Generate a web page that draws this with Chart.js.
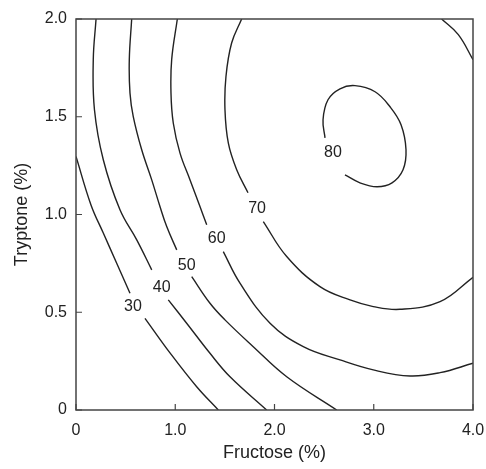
<!DOCTYPE html>
<html>
<head>
<meta charset="utf-8">
<script src="https://cdn.jsdelivr.net/npm/chart.js@4.4.1/dist/chart.umd.min.js"></script>
<style>
  body { margin: 0; background: #fff; }
  canvas { display: block; }
</style>
</head>
<body>
<canvas id="contourChart" width="486" height="469"></canvas>
<script>
// contour lines, [fructose, tryptone]; null = gap where the label sits
const contour30 = [[0, 1.297], [0.151, 1.049], [0.275, 0.905], [0.410, 0.751], [0.544, 0.597], null,
  [0.695, 0.469], [0.947, 0.292], [1.216, 0.119], [1.434, 0]];
const contour40 = [[0.202, 2.0], [0.174, 1.792], [0.186, 1.536], [0.275, 1.280], [0.443, 1.024],
  [0.612, 0.870], [0.763, 0.717], null,
  [0.930, 0.563], [1.115, 0.444], [1.350, 0.290], [1.552, 0.170], [1.921, 0]];
const contour50 = [[0.561, 2.0], [0.537, 1.792], [0.544, 1.621], [0.577, 1.501], [0.662, 1.331],
  [0.763, 1.177], [0.846, 1.041], [0.914, 0.938], [1.015, 0.819], null,
  [1.166, 0.682], [1.350, 0.546], [1.501, 0.461], [1.786, 0.324], [2.123, 0.170], [2.627, 0]];
const contour60 = [[1.021, 2.0], [0.964, 1.792], [0.957, 1.621], [0.980, 1.468], [1.048, 1.314],
  [1.149, 1.177], [1.249, 1.041], [1.317, 0.947], null,
  [1.484, 0.810], [1.652, 0.649], [1.955, 0.444], [2.290, 0.324], [2.660, 0.256],
  [2.995, 0.205], [3.365, 0.174], [3.668, 0.191], [4.0, 0.239]];
const contour70 = [[1.669, 2.0], [1.568, 1.877], [1.511, 1.706], [1.501, 1.536], [1.535, 1.365],
  [1.619, 1.229], [1.733, 1.111], null,
  [1.887, 0.964], [2.123, 0.785], [2.458, 0.631], [2.761, 0.563], [2.995, 0.529],
  [3.264, 0.515], [3.668, 0.554], [4.0, 0.679], null,
  [3.684, 2.0], [3.852, 1.920], [4.0, 1.792]];
const contour80 = [[2.509, 1.392], [2.489, 1.485], [2.539, 1.587], [2.660, 1.643], [2.811, 1.659],
  [3.013, 1.628], [3.164, 1.551], [3.275, 1.459], [3.325, 1.331], [3.295, 1.229],
  [3.184, 1.162], [3.033, 1.142], [2.861, 1.162], [2.710, 1.203]];

const contourLabels = ['30', '40', '50', '60', '70', '80'];
const labelX = [0.574, 0.863, 1.115, 1.418, 1.824, 2.589];
const labelY = [0.527, 0.627, 0.740, 0.875, 1.029, 1.316];

const xTicks = [0, 1, 2, 3, 4];
const yTicks = [0, 0.5, 1, 1.5, 2];

const lineColor = '#222';
const textColor = '#222';
const fontFamily = '"Liberation Sans", Arial, sans-serif';

// split a contour into its pieces
function segments(pts) {
  let out = [], cur = [];
  pts.forEach(p => {
    if (p === null) { out.push(cur); cur = []; }
    else cur.push({ x: p[0], y: p[1] });
  });
  out.push(cur);
  return out;
}

let datasets = [];
[contour30, contour40, contour50, contour60, contour70, contour80].forEach(c => {
  segments(c).forEach(seg => {
    datasets.push({
      data: seg,
      showLine: true,
      borderColor: lineColor,
      borderWidth: 1.4,
      pointRadius: 0,
      tension: 0.4,
      fill: false
    });
  });
});

const fmt = v => v === 0 ? '0' : v.toFixed(1);

const framePlugin = {
  id: 'frame',
  afterDatasetsDraw(chart) {
    const { ctx, chartArea: a, scales: { x, y } } = chart;
    ctx.save();
    ctx.strokeStyle = '#444';
    ctx.lineWidth = 1.5;
    ctx.strokeRect(a.left, a.top, a.right - a.left, a.bottom - a.top);
    // inward tick marks
    ctx.lineWidth = 1.2;
    ctx.beginPath();
    xTicks.forEach(v => {
      const px = x.getPixelForValue(v);
      ctx.moveTo(px, a.bottom); ctx.lineTo(px, a.bottom - 6);
    });
    yTicks.forEach(v => {
      const py = y.getPixelForValue(v);
      ctx.moveTo(a.left, py); ctx.lineTo(a.left + 6, py);
    });
    ctx.stroke();
    // contour labels
    ctx.fillStyle = textColor;
    ctx.font = '16px ' + fontFamily;
    ctx.textAlign = 'center';
    ctx.textBaseline = 'middle';
    contourLabels.forEach((t, i) => {
      ctx.fillText(t, x.getPixelForValue(labelX[i]), y.getPixelForValue(labelY[i]));
    });
    ctx.restore();
  }
};

const ctx = document.querySelector('#contourChart');
const chart = new Chart(ctx, {
  type: 'scatter',
  data: { datasets: datasets },
  plugins: [framePlugin],
  options: {
    responsive: false,
    animation: false,
    devicePixelRatio: 1,
    layout: { padding: { top: 19, right: 13, left: 0, bottom: 0 } },
    plugins: { legend: { display: false }, tooltip: { enabled: false } },
    scales: {
      x: {
        type: 'linear',
        min: 0, max: 4,
        afterFit: s => { s.height = 59; s.paddingLeft = 0; s.paddingRight = 0; },
        afterBuildTicks: s => { s.ticks = xTicks.map(v => ({ value: v })); },
        grid: { display: false, drawTicks: false },
        border: { display: false },
        ticks: {
          padding: 11,
          color: textColor,
          font: { family: fontFamily, size: 16 },
          callback: fmt,
          maxRotation: 0
        },
        title: {
          display: true,
          text: 'Fructose (%)',
          color: textColor,
          font: { family: fontFamily, size: 18 },
          padding: { top: 0, bottom: 5 }
        }
      },
      y: {
        type: 'linear',
        min: 0, max: 2,
        afterFit: s => { s.width = 76; s.paddingTop = 0; s.paddingBottom = 0; },
        afterBuildTicks: s => { s.ticks = yTicks.map(v => ({ value: v })); },
        grid: { display: false, drawTicks: false },
        border: { display: false },
        ticks: {
          padding: 9,
          color: textColor,
          font: { family: fontFamily, size: 16 },
          callback: fmt
        },
        title: {
          display: true,
          text: 'Tryptone (%)',
          color: textColor,
          font: { family: fontFamily, size: 18 },
          padding: { top: 11, bottom: 0 }
        }
      }
    }
  }
});
</script>
</body>
</html>
